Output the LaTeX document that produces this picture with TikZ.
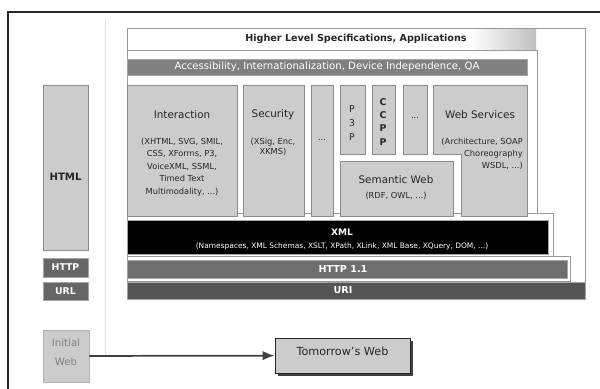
\documentclass[tikz,border=0pt]{standalone}
\usepackage{fontspec}
\setmainfont{DejaVu Sans}
\usetikzlibrary{fit,shadows,arrows.meta}
\begin{document}
\begin{tikzpicture}[x=0.75pt,y=-0.75pt,
  layer/.style={draw=black!40, fill=white, line width=0.6pt, inner sep=0pt},
  tech/.style={draw=black!45, fill=black!20, line width=0.6pt, inner sep=0pt},
  darkbar/.style={draw=black!35, line width=0.5pt, inner sep=0pt},
  title/.style={font=\fontsize{7.8}{9}\selectfont, text=black!85, inner sep=0pt},
  detail/.style={font=\fontsize{6.2}{9.3}\selectfont, text=black!85, align=center, inner sep=0pt},
  whitetxt/.style={font=\fontsize{7.3}{9}\selectfont, text=white, inner sep=0pt},
  vletter/.style={font=\fontsize{7}{10.2}\selectfont, text=black!85, align=center, inner sep=0pt}]
\useasboundingbox (0,0) rectangle (600,389);
\fill[white] (0,0) rectangle (600,389);
% outer frame and faint separator
\draw[black!85, line width=0.8pt] (8,389) -- (8,12) -- (600,12);
\draw[black!12, line width=0.6pt] (105,20) -- (105,356);
% staircase layers
\node[layer, fit={(127,28)(585,282)}] (higher) {};
\shade[left color=white, right color=black!25] (470,29) rectangle (536,49.5);
\node[layer, fit={(127,50)(537,215)}] (midlayer) {};
\node[layer, fit={(127,213)(553,258)}] (xmllayer) {};
\node[layer, fit={(127,256)(570,281)}] (httplayer) {};
\node[title, font=\bfseries\fontsize{7.2}{9}\selectfont] (highertxt) at (356,39) {Higher Level Specifications, Applications};
% accessibility bar
\node[darkbar, fill=black!50, fit={(127,59)(527,75)}] (access) {};
\node[whitetxt, font=\fontsize{7.6}{9}\selectfont] (accesstxt) at (327,67) {Accessibility, Internationalization, Device Independence, QA};
% technology boxes
\node[tech, fit={(127,85)(237,216)}] (inter) {};
\node[title] (intertitle) at (182,115) {Interaction};
\node[detail] (interdet) at (182,167) {(XHTML, SVG, SMIL,\\CSS, XForms, P3,\\VoiceXML, SSML,\\Timed Text\\Multimodality, ...)};
\node[tech, fit={(243,85)(304,216)}] (sec) {};
\node[title] (sectitle) at (273,115) {Security};
\node[detail, font=\fontsize{6.2}{8}\selectfont] (secdet) at (273,147) {(XSig, Enc,\\XKMS)};
\node[tech, fit={(311,85)(333,216)}] (dots1) {};
\node[detail] (dots1txt) at (322,140) {...};
\node[tech, fit={(340,85)(365,154)}] (p3p) {};
\node[vletter] (p3ptxt) at (352,123) {P\\3\\P};
\node[tech, fit={(372,85)(395,154)}] (ccpp) {};
\node[vletter, font=\bfseries\fontsize{7}{9.8}\selectfont] (ccpptxt) at (383,122) {C\\C\\P\\P};
\node[tech, fit={(403,85)(427,154)}] (dots2) {};
\node[detail] (dots2txt) at (415,118) {...};
% web services (L-shaped)
\coordinate (ws1) at (433,85);
\coordinate (ws2) at (527,85);
\coordinate (ws3) at (527,216);
\coordinate (ws4) at (461,216);
\coordinate (ws5) at (461,154);
\coordinate (ws6) at (433,154);
\draw[black!45, fill=black!20, line width=0.6pt] (ws1) -- (ws2) -- (ws3) -- (ws4) -- (ws5) -- (ws6) -- cycle;
\node[title] (wstitle) at (480,115) {Web Services};
\node[detail, align=right, anchor=north east, font=\fontsize{6.2}{8.8}\selectfont] (wsdet) at (523,138) {(Architecture, SOAP\\Choreography\\WSDL, ...)};
\node[tech, fit={(340,161)(453,216)}] (sem) {};
\node[title] (semtitle) at (396,180) {Semantic Web};
\node[detail] (semdet) at (396,196) {(RDF, OWL, ...)};
% XML, HTTP, URI bars
\node[darkbar, fill=black, fit={(127,220)(548,254)}] (xml) {};
\node[whitetxt, font=\bfseries\fontsize{6.8}{8}\selectfont] (xmltxt) at (342,232) {XML};
\node[whitetxt, font=\fontsize{5.6}{7}\selectfont] (xmldet) at (342,246) {(Namespaces, XML Schemas, XSLT, XPath, XLink, XML Base, XQuery, DOM, ...)};
\node[darkbar, fill=black!57, fit={(127,260)(567,278)}] (http) {};
\node[whitetxt, font=\bfseries\fontsize{7.2}{9}\selectfont] (httptxt) at (343,269) {HTTP 1.1};
\node[darkbar, fill=black!67, fit={(127,282)(585,299)}] (uri) {};
\node[whitetxt, font=\bfseries\fontsize{7.2}{9}\selectfont] (uritxt) at (343,290) {URI};
% left column
\node[tech, fit={(43,85)(88,250)}] (html) {};
\node[title, font=\bfseries\fontsize{7.6}{9}\selectfont] (htmltxt) at (65.5,177) {HTML};
\node[darkbar, fill=black!60, fit={(43,258)(88,277)}] (lhttp) {};
\node[whitetxt, font=\bfseries\fontsize{7}{9}\selectfont] (lhttptxt) at (65.5,267.5) {HTTP};
\node[darkbar, fill=black!60, fit={(43,282)(88,300)}] (lurl) {};
\node[whitetxt, font=\bfseries\fontsize{7}{9}\selectfont] (lurltxt) at (65.5,291) {URL};
% bottom
\node[tech, draw=black!30, fit={(43,330)(89,382)}, align=center, font=\fontsize{7.6}{14}\selectfont, text=black!50] (initial) {Initial\\Web};
\node[tech, draw=black!85, fit={(275,338)(410,373)}, drop shadow={shadow xshift=2pt, shadow yshift=-2pt, fill=black!75, opacity=1}, font=\fontsize{8.4}{10}\selectfont, text=black!85] (tomorrow) {Tomorrow's Web};
\draw[-{Latex[length=9pt,width=7pt]}, black!75, line width=1.3pt] (initial) -- (tomorrow);
\end{tikzpicture}
\end{document}
